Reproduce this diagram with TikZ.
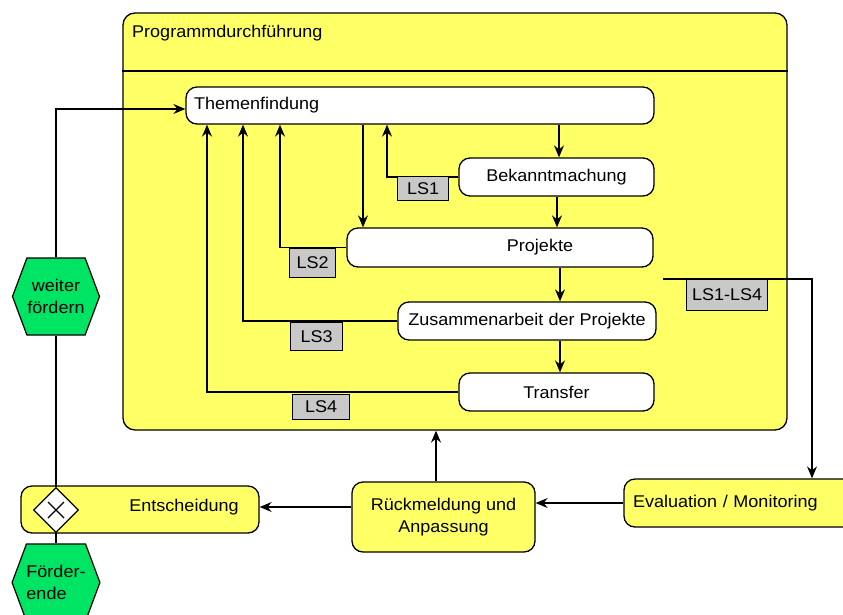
\documentclass[tikz,border=0pt]{standalone}
\usepackage{fontspec}
\setmainfont{Liberation Sans}[FakeStretch=1.06]
\usetikzlibrary{positioning,arrows.meta,shapes.geometric,shapes.symbols}
\definecolor{gelb}{RGB}{255,255,102}
\definecolor{gruen}{RGB}{0,228,100}
\definecolor{grau}{RGB}{200,200,200}

\begin{document}
\begin{tikzpicture}[x=1pt,y=-1pt]
        \tikzset{
            every node/.style={font=\fontsize{17}{22}\selectfont, inner sep=0pt},
            box/.style={draw, fill=white, rounded corners=11pt, line width=1.3pt},
            gbox/.style={draw, fill=gelb, rounded corners=11pt, line width=1.3pt},
            lsbox/.style={draw, fill=grau, line width=1.2pt, anchor=north west},
            hexa/.style={draw, fill=gruen, signal, signal to=east and west, signal pointer angle=139,
                         minimum width=87pt, minimum height=77pt, line width=1.2pt},
            pfeil/.style={-{Stealth[length=12pt,width=10pt,inset=4pt]}, line width=1.3pt},
            linie/.style={line width=1.3pt}
        }
        \useasboundingbox (0,0) rectangle (843,614);

        % Programmdurchfuehrung
        \node[gbox, rounded corners=12pt, minimum width=664pt, minimum height=417pt] (prog) at (455,221.5) {};
        \draw[linie] (prog.west |- 0,71) -- (prog.east |- 0,71);
        \node[anchor=west] (titel) at (132,33) {Programmdurchführung};

        \node[box, text width=452pt, inner xsep=8pt, minimum height=37pt, align=left] (them) at (420,105.5) {Themenfindung};
        \node[box, minimum width=195pt, minimum height=38pt] (bek) at (556.5,177) {Bekanntmachung};
        \node[box, minimum width=306pt, minimum height=39pt, label={[xshift=40pt]center:Projekte}] (proj) at (500,247.5) {};
        \node[box, minimum width=258pt, minimum height=38pt] (zus) at (527,321) {Zusammenarbeit der Projekte};
        \node[box, minimum width=195pt, minimum height=38pt] (trans) at (556.5,392) {Transfer};

        \draw[pfeil] (them.south -| 559,0) -- (bek.north -| 559,0);
        \draw[pfeil] (bek.south -| 557,0) -- (proj.north -| 557,0);
        \draw[pfeil] (them.south -| 363,0) -- (proj.north -| 363,0);
        \draw[pfeil] (proj.south -| 560,0) -- (zus.north -| 560,0);
        \draw[pfeil] (zus.south -| 560,0) -- (trans.north -| 560,0);

        \draw[pfeil] (bek.west) -| (them.south -| 387,0);
        \draw[pfeil] (proj.west) -| (them.south -| 280,0);
        \draw[pfeil] (zus.west) -| (them.south -| 243,0);
        \draw[pfeil] (trans.west) -| (them.south -| 207,0);

        \node[lsbox, minimum width=51pt, minimum height=24pt] (ls1) at (397,176) {LS1};
        \node[lsbox, minimum width=46pt, minimum height=29pt] (ls2) at (289,248) {LS2};
        \node[lsbox, minimum width=52pt, minimum height=28pt] (ls3) at (290,322) {LS3};
        \node[lsbox, minimum width=57pt, minimum height=25pt] (ls4) at (292,394) {LS4};

        % unten
        \node[gbox, text width=212pt, inner xsep=9pt, minimum height=48pt, align=left] (eval) at (739,503) {Evaluation / Monitoring};
        \node[gbox, minimum width=183pt, minimum height=70pt, align=center] (rueck) at (443.5,517) {Rückmeldung und\\Anpassung};
        \node[gbox, minimum width=238pt, minimum height=47pt, label={[xshift=44pt, yshift=2pt]center:Entscheidung}] (ent) at (140,509.5) {};
        \node[draw, fill=white, diamond, minimum width=45pt, minimum height=45pt, line width=1.2pt] (xor) at (56,510) {};
        \draw[linie] ([shift={(-8pt,-8pt)}]xor.center) -- ([shift={(8pt,8pt)}]xor.center);
        \draw[linie] ([shift={(-8pt,8pt)}]xor.center) -- ([shift={(8pt,-8pt)}]xor.center);

        \node[hexa, align=center] (weiter) at (56,296.5) {weiter\\fördern};
        \node[hexa, align=left] (ende) at (56,582.5) {Förder-\\ende};

        \coordinate (aus) at (663,279);
        \draw[pfeil] (aus) -| (eval.north -| 812,0);
        \node[lsbox, minimum width=81pt, minimum height=31pt] (ls14) at (686,279) {LS1-LS4};

        \draw[pfeil] (eval.west) -- (eval.west -| rueck.east);
        \draw[pfeil] (rueck.north -| 436,0) -- (prog.south -| 436,0);
        \draw[pfeil] (rueck.west |- 0,507) -- (ent.east |- 0,507);
        \draw[linie] (xor.north) -- (weiter.south);
        \draw[pfeil] (weiter.north) |- (them.west |- 0,109);
        \draw[linie] (xor.south) -- (ende.north);
    \end{tikzpicture}
\end{document}
